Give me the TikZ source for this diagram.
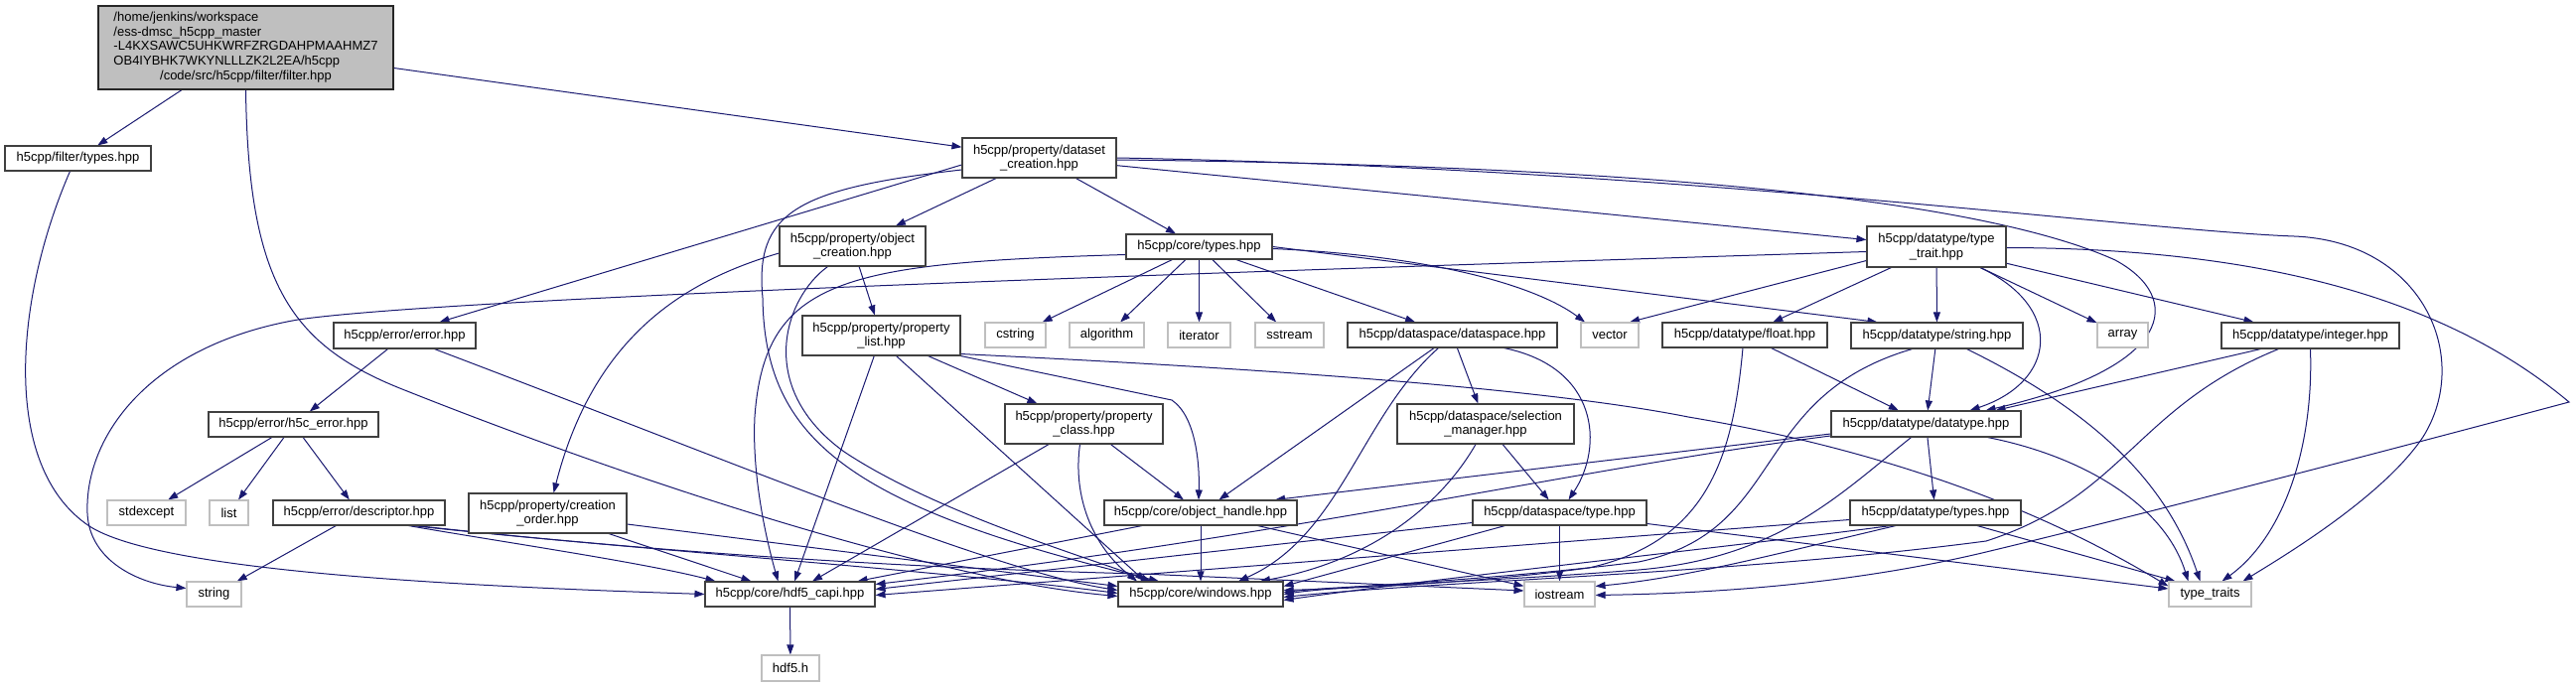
\documentclass[tikz,border=0pt]{standalone}
\usepackage{fontspec}
\setmainfont{Liberation Sans}
\usetikzlibrary{arrows.meta,backgrounds}
\definecolor{edgeblue}{HTML}{191970}
\definecolor{rootgray}{HTML}{BFBFBF}
\definecolor{boxline}{HTML}{404040}
\definecolor{sysline}{HTML}{BFBFBF}
\newcommand{\hdrsize}{\fontsize{13pt}{14.7pt}\selectfont}
\tikzset{
  hdr/.style={draw=boxline, line width=1.1pt, fill=white, inner sep=0pt, minimum height=25pt, align=center, font=\hdrsize},
  sys/.style={hdr, draw=sysline},
  dep/.style={draw=edgeblue, line width=1pt, -{Triangle[length=10pt,width=7pt]}}
}
\begin{document}
\begin{tikzpicture}[x=1pt,y=-1pt]
\useasboundingbox (0,0) rectangle (2594,692);
\node[hdr, fill=rootgray, draw=black!85, minimum width=297pt, minimum height=84pt] (root) at (247.5,48) {\begin{tabular}{@{}l@{}}/home/jenkins/workspace\\/ess-dmsc\_h5cpp\_master\\-L4KXSAWC5UHKWRFZRGDAHPMAAHMZ7\\OB4IYBHK7WKYNLLLZK2L2EA/h5cpp\\\multicolumn{1}{@{}c@{}}{/code/src/h5cpp/filter/filter.hpp}\end{tabular}};
\node[hdr, minimum width=147pt] (ftypes) at (78.5,159.5) {h5cpp/filter/types.hpp};
\node[hdr, minimum width=155pt, minimum height=40pt] (dscreate) at (1046.5,159) {h5cpp/property/dataset\\\_creation.hpp};
\node[hdr, minimum width=143pt, minimum height=26pt] (error) at (407.5,338) {h5cpp/error/error.hpp};
\node[hdr, minimum width=171pt] (h5cerr) at (295.5,427.5) {h5cpp/error/h5c\_error.hpp};
\node[sys, minimum width=79pt] (stdexcept) at (147.5,516.5) {stdexcept};
\node[sys, minimum width=39pt] (list) at (230.5,516.5) {list};
\node[hdr, minimum width=173pt] (descriptor) at (361.5,516.5) {h5cpp/error/descriptor.hpp};
\node[hdr, minimum width=159pt, minimum height=40pt] (crorder) at (551.5,517) {h5cpp/property/creation\\\_order.hpp};
\node[sys, minimum width=55pt] (string) at (215.5,598.5) {string};
\node[hdr, minimum width=147pt, minimum height=40pt] (objcreate) at (858.5,248) {h5cpp/property/object\\\_creation.hpp};
\node[hdr, minimum width=147pt] (coretypes) at (1207.5,248.5) {h5cpp/core/types.hpp};
\node[hdr, minimum width=159pt, minimum height=40pt] (proplist) at (887.5,338) {h5cpp/property/property\\\_list.hpp};
\node[sys, minimum width=61pt] (cstring) at (1022.5,337.5) {cstring};
\node[sys, minimum width=75pt] (algorithm) at (1114.5,337.5) {algorithm};
\node[sys, minimum width=63pt] (iterator) at (1207.5,337.5) {iterator};
\node[sys, minimum width=69pt] (sstream) at (1298.5,337.5) {sstream};
\node[hdr, minimum width=159pt, minimum height=40pt] (propclass) at (1091.5,427) {h5cpp/property/property\\\_class.hpp};
\node[hdr, minimum width=194pt] (objhandle) at (1209,516.5) {h5cpp/core/object\_handle.hpp};
\node[hdr, minimum width=171pt] (hdf5capi) at (795.5,598.5) {h5cpp/core/hdf5\_capi.hpp};
\node[hdr, minimum width=166pt] (windows) at (1209,598.5) {h5cpp/core/windows.hpp};
\node[sys, minimum width=58pt, minimum height=26pt] (hdf5h) at (796,673) {hdf5.h};
\node[hdr, minimum width=211pt] (dataspace) at (1462.5,337.5) {h5cpp/dataspace/dataspace.hpp};
\node[sys, minimum width=58pt] (vector) at (1621,337.5) {vector};
\node[hdr, minimum width=166pt] (float) at (1757,337.5) {h5cpp/datatype/float.hpp};
\node[hdr, minimum width=140pt, minimum height=41pt] (typetrait) at (1950,248.5) {h5cpp/datatype/type\\\_trait.hpp};
\node[hdr, minimum width=173pt, minimum height=26pt] (dtstring) at (1950.5,338) {h5cpp/datatype/string.hpp};
\node[sys, minimum width=51pt] (array) at (2137.5,337.5) {array};
\node[hdr, minimum width=179pt, minimum height=26pt] (integer) at (2326.5,338) {h5cpp/datatype/integer.hpp};
\node[hdr, minimum width=178pt, minimum height=40pt] (selmgr) at (1496,427) {h5cpp/dataspace/selection\\\_manager.hpp};
\node[hdr, minimum width=191pt, minimum height=26pt] (datatype) at (1939.5,427) {h5cpp/datatype/datatype.hpp};
\node[hdr, minimum width=175pt] (dstype) at (1570.5,516.5) {h5cpp/dataspace/type.hpp};
\node[hdr, minimum width=172pt] (dttypes) at (1949,516.5) {h5cpp/datatype/types.hpp};
\node[sys, minimum width=71pt] (iostream) at (1570.5,598.5) {iostream};
\node[sys, minimum width=83pt] (typetraits) at (2225.5,598.5) {type\_traits};
\begin{scope}[on background layer]
\fill[white] (0,0) rectangle (2594,692);
\draw[dep] (root) -- (ftypes);
\draw[dep] (root) -- (dscreate);
\draw[dep] (root.south) .. controls (250,280) and (290,345) .. (400,390) .. controls (650,490) and (950,585) .. ([yshift=-2pt]windows.west);
\draw[dep] ([xshift=-8pt]ftypes.south) .. controls (15,300) and (0,470) .. (90,530) .. controls (160,575) and (450,590) .. (hdf5capi.west);
\draw[dep] (error) -- (h5cerr);
\draw[dep] ([xshift=30pt]error.south) .. controls (750,470) and (1000,575) .. ([yshift=4pt]windows.west);
\draw[dep] (h5cerr) -- (stdexcept);
\draw[dep] (h5cerr) -- (list);
\draw[dep] (h5cerr) -- (descriptor);
\draw[dep] (descriptor) -- (string);
\draw[dep] ([xshift=50pt]descriptor.south) .. controls (500,545) and (650,567) .. ([xshift=-75pt]hdf5capi.north);
\draw[dep] ([xshift=54pt]descriptor.south) .. controls (600,550) and (950,575) .. ([yshift=1pt]windows.west);
\draw[dep] ([xshift=58pt]descriptor.south) .. controls (650,555) and (900,572) .. (1150,578) -- ([yshift=3.5pt]iostream.west);
\draw[dep] (crorder) -- (hdf5capi);
\draw[dep] ([yshift=-11pt]crorder.east) -- ([yshift=8pt]windows.west);
\draw[dep] (dscreate) -- (objcreate);
\draw[dep] (dscreate) -- (coretypes);
\draw[dep] ([yshift=-7pt]dscreate.west) -- ([xshift=35pt]error.north);
\draw[dep] ([yshift=-12pt]dscreate.west) .. controls (800,190) and (760,215) .. (768,300) .. controls (770,440) and (850,510) .. ([xshift=-42pt]windows.north);
\draw[dep] (dscreate) -- (typetrait);
\draw[dep] ([yshift=-2pt]dscreate.east) .. controls (1500,165) and (1960,185) .. (2130,262) .. controls (2200,300) and (2190,370) .. ([xshift=60pt]datatype.north);
\draw[dep] (dscreate.east) .. controls (1700,170) and (2150,232) .. (2310,238) .. controls (2440,243) and (2490,360) .. (2440,440) .. controls (2400,500) and (2300,560) .. ([xshift=33pt]typetraits.north);
\draw[dep] (objcreate) -- (proplist);
\draw[dep] ([yshift=-7pt]objcreate.west) .. controls (700,280) and (600,330) .. ([xshift=6pt]crorder.north);
\draw[dep] ([xshift=-25pt]objcreate.south) .. controls (790,300) and (760,390) .. (850,455) .. controls (940,515) and (1090,560) .. ([xshift=-50pt]windows.north);
\draw[dep] (proplist) -- (hdf5capi);
\draw[dep] ([xshift=15pt]proplist.south) -- ([xshift=-56pt]windows.north);
\draw[dep] (proplist) -- (propclass);
\draw[dep] (proplist.south east) -- (1180,403) .. controls (1205,420) and (1208,470) .. ([xshift=-2pt]objhandle.north);
\draw[dep] ([yshift=2pt]proplist.south east) .. controls (1250,370) and (1550,390) .. (1700,420) .. controls (1950,462) and (2100,540) .. ([yshift=8pt]typetraits.west);
\draw[dep] (propclass) -- (hdf5capi);
\draw[dep] ([xshift=-4pt]propclass.south) .. controls (1080,500) and (1100,550) .. ([xshift=-64pt]windows.north);
\draw[dep] (propclass) -- (objhandle);
\draw[dep] ([xshift=-59pt]objhandle.south) -- ([xshift=68pt]hdf5capi.north);
\draw[dep] (objhandle) -- (windows);
\draw[dep] (objhandle) -- (iostream);
\draw[dep] ([yshift=-8pt]coretypes.west) .. controls (850,265) and (770,280) .. (760,420) .. controls (757,480) and (772,545) .. ([xshift=-12pt]hdf5capi.north);
\draw[dep] (coretypes) -- (cstring);
\draw[dep] (coretypes) -- (algorithm);
\draw[dep] (coretypes) -- (iterator);
\draw[dep] (coretypes) -- (sstream);
\draw[dep] (coretypes) -- (dataspace);
\draw[dep] ([yshift=-2pt]coretypes.east) .. controls (1450,258) and (1550,290) .. ([xshift=-25pt]vector.north);
\draw[dep] (coretypes.east) -- ([xshift=-60pt]dtstring.north);
\draw[dep] (dataspace) -- (objhandle);
\draw[dep] ([xshift=-14pt]dataspace.south) .. controls (1370,420) and (1350,540) .. ([xshift=38pt]windows.north);
\draw[dep] (dataspace) -- (selmgr);
\draw[dep] ([xshift=52pt]dataspace.south) .. controls (1610,370) and (1615,450) .. ([xshift=9pt]dstype.north);
\draw[dep] (selmgr) -- (dstype);
\draw[dep] ([xshift=-10pt]selmgr.south) .. controls (1450,510) and (1380,565) .. ([xshift=60pt]windows.north);
\draw[dep] (dstype) -- (iostream);
\draw[dep] ([xshift=-55pt]dstype.south) -- ([yshift=8pt]windows.east);
\draw[dep] ([yshift=-10pt]dstype.west) -- ([yshift=5pt]hdf5capi.east);
\draw[dep] ([yshift=-11pt]dstype.east) -- ([yshift=5.5pt]typetraits.west);
\draw[dep] (float) -- (datatype);
\draw[dep] ([xshift=-2pt]float.south) .. controls (1745,460) and (1720,545) .. (1600,572) .. controls (1480,588) and (1350,593) .. ([yshift=4pt]windows.east);
\draw[dep] (dtstring) -- (datatype);
\draw[dep] ([xshift=-25pt]dtstring.south) .. controls (1760,400) and (1800,535) .. (1650,566) .. controls (1500,585) and (1350,590) .. (windows.east);
\draw[dep] ([xshift=30pt]dtstring.south) .. controls (2100,410) and (2180,480) .. ([xshift=-10pt]typetraits.north);
\draw[dep] ([xshift=-50pt]integer.south) -- ([xshift=70pt]datatype.north);
\draw[dep] ([xshift=-32pt]integer.south) .. controls (2150,410) and (2140,500) .. (2000,545) .. controls (1750,578) and (1450,585) .. ([yshift=-3pt]windows.east);
\draw[dep] (integer.south) .. controls (2330,450) and (2300,540) .. ([xshift=12pt]typetraits.north);
\draw[dep] (datatype) -- (dttypes);
\draw[dep] ([yshift=-10pt]datatype.west) -- ([xshift=75pt]objhandle.north);
\draw[dep] ([yshift=-12pt]datatype.west) .. controls (1600,470) and (1300,540) .. ([yshift=10pt]hdf5capi.east);
\draw[dep] ([xshift=62pt]datatype.south) .. controls (2100,460) and (2180,510) .. ([xshift=-22pt]typetraits.north);
\draw[dep] ([xshift=-15pt]datatype.south) .. controls (1850,500) and (1790,562) .. (1650,574) .. controls (1500,586) and (1350,590) .. ([yshift=2pt]windows.east);
\draw[dep] ([yshift=-7pt]dttypes.west) -- ([yshift=-1pt]hdf5capi.east);
\draw[dep] ([xshift=-45pt]dttypes.south) .. controls (1750,550) and (1450,582) .. ([yshift=-6pt]windows.east);
\draw[dep] ([xshift=-40pt]dttypes.south) .. controls (1800,555) and (1700,582) .. ([yshift=8pt]iostream.east);
\draw[dep] ([xshift=42pt]dttypes.south) -- ([xshift=-35pt]typetraits.north);
\draw[dep] (typetrait) -- (float);
\draw[dep] (typetrait) -- (dtstring);
\draw[dep] (typetrait) -- (array);
\draw[dep] (typetrait) -- (integer);
\draw[dep] ([xshift=44pt]typetrait.south) .. controls (2080,310) and (2070,385) .. ([xshift=44pt]datatype.north);
\draw[dep] ([yshift=-14pt]typetrait.west) -- ([xshift=20pt]vector.north);
\draw[dep] ([yshift=-5pt]typetrait.west) .. controls (1200,275) and (450,300) .. (300,322) .. controls (150,348) and (85,440) .. (88,517) .. controls (90,565) and (140,588) .. ([yshift=6pt]string.west);
\draw[dep] ([yshift=-1pt]typetrait.east) .. controls (2250,250) and (2450,290) .. (2587,405) .. controls (2400,455) and (2150,520) .. (2000,556) .. controls (1850,592) and (1700,598) .. ([yshift=-1pt]iostream.east);
\draw[dep] (hdf5capi) -- (hdf5h);
\end{scope}
\end{tikzpicture}
\end{document}
